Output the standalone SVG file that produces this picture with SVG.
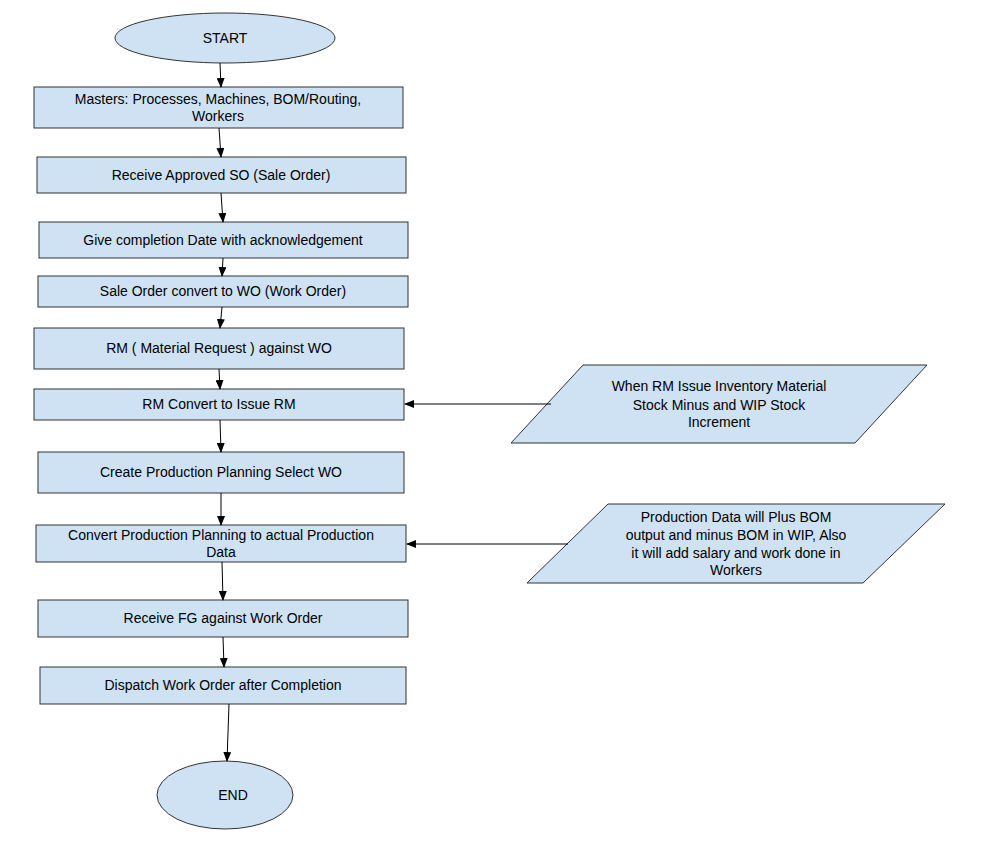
<svg xmlns="http://www.w3.org/2000/svg" width="982" height="843" viewBox="0 0 982 843">
<defs><marker id="a" markerWidth="10" markerHeight="8" refX="9" refY="4" orient="auto" markerUnits="userSpaceOnUse"><path d="M0,0 L10,4 L0,8 Z" fill="#000"/></marker></defs>
<style>.n{fill:#cfe2f3;stroke:#333;stroke-width:1}text{font-family:"Liberation Sans",Arial,sans-serif;font-size:14px;fill:#000;text-anchor:middle}.c line{stroke:#000;stroke-width:1;marker-end:url(#a)}</style>
<rect width="982" height="843" fill="#fff"/>
<g id="start"><ellipse class="n" cx="225" cy="38" rx="110" ry="25"/><text x="225" y="43">START</text></g>
<g id="n1"><rect class="n" x="34" y="87" width="369" height="41"/><text x="218" y="104">Masters: Processes, Machines, BOM/Routing,</text><text x="218" y="121">Workers</text></g>
<g id="n2"><rect class="n" x="37" y="157" width="369" height="36"/><text x="221" y="180">Receive Approved SO (Sale Order)</text></g>
<g id="n3"><rect class="n" x="39" y="222" width="369" height="36"/><text x="223" y="245">Give completion Date with acknowledgement</text></g>
<g id="n4"><rect class="n" x="38" y="276" width="370" height="31"/><text x="223" y="296">Sale Order convert to WO (Work Order)</text></g>
<g id="n5"><rect class="n" x="34" y="328" width="370" height="41"/><text x="219" y="353">RM ( Material Request ) against WO</text></g>
<g id="n6"><rect class="n" x="34" y="389" width="370" height="31"/><text x="219" y="409">RM Convert to Issue RM</text></g>
<g id="n7"><rect class="n" x="38" y="452" width="366" height="41"/><text x="221" y="477">Create Production Planning Select WO</text></g>
<g id="n8"><rect class="n" x="36" y="525" width="370" height="37"/><text x="221" y="540">Convert Production Planning to actual Production</text><text x="221" y="557">Data</text></g>
<g id="n9"><rect class="n" x="38" y="600" width="370" height="37"/><text x="223" y="623">Receive FG against Work Order</text></g>
<g id="n10"><rect class="n" x="40" y="667" width="366" height="37"/><text x="223" y="690">Dispatch Work Order after Completion</text></g>
<g id="end"><ellipse class="n" cx="225" cy="795" rx="68" ry="34"/><text x="233" y="800">END</text></g>
<g id="p1"><polygon class="n" points="511,443 583,365 927,365 855,443"/><text x="719" y="391">When RM Issue Inventory Material</text><text x="719" y="410">Stock  Minus and WIP Stock</text><text x="719" y="427">Increment</text></g>
<g id="p2"><polygon class="n" points="527,583 608,504 945,504 863,583"/><text x="736" y="522">Production Data will Plus BOM</text><text x="736" y="540">output and minus BOM in WIP, Also</text><text x="736" y="558">it will add salary and work done in</text><text x="736" y="575">Workers</text></g>
<g class="c">
<line x1="220" y1="63" x2="221" y2="87"/>
<line x1="219" y1="128" x2="221" y2="157"/>
<line x1="221" y1="193" x2="223" y2="222"/>
<line x1="223" y1="258" x2="222" y2="276"/>
<line x1="222" y1="307" x2="220" y2="328"/>
<line x1="219" y1="369" x2="220" y2="389"/>
<line x1="220" y1="420" x2="221" y2="452"/>
<line x1="221" y1="493" x2="221" y2="525"/>
<line x1="222" y1="562" x2="223" y2="600"/>
<line x1="223" y1="637" x2="224" y2="667"/>
<line x1="229" y1="704" x2="227" y2="761"/>
<line x1="551" y1="404" x2="405" y2="404"/>
<line x1="568" y1="544" x2="407" y2="544"/>
</g>
</svg>
